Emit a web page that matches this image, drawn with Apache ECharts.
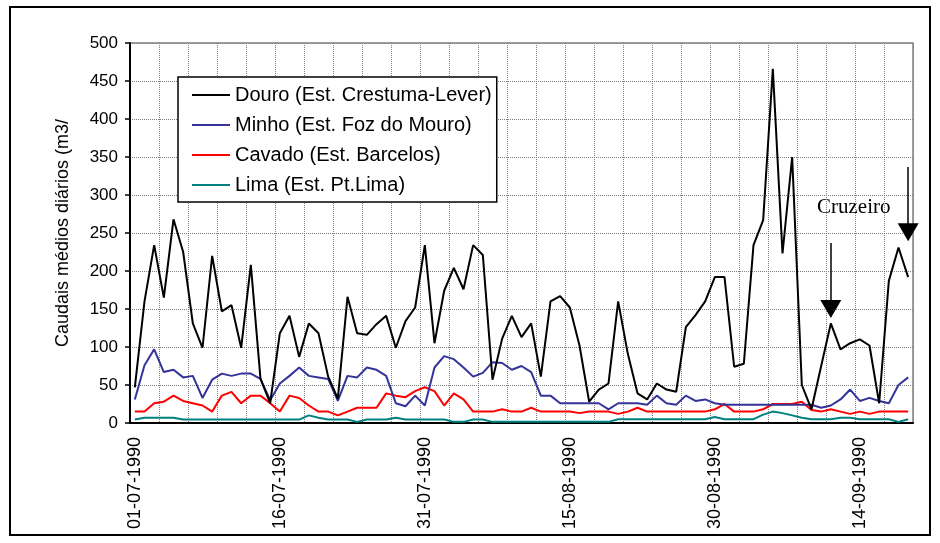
<!DOCTYPE html>
<html>
<head>
<meta charset="utf-8">
<title>Caudais médios diários</title>
<script src="https://cdn.jsdelivr.net/npm/echarts@6.0.0/dist/echarts.min.js"></script>
<style>
  html, body { margin: 0; padding: 0; background: #fff; }
  #chart { width: 940px; height: 543px; }
</style>
</head>
<body>
<div id="chart"></div>
<script>
// dias de 01-07-1990 a 19-09-1990
var days = [];
(function () {
  var d = new Date(1990, 6, 1);
  for (var i = 0; i < 81; i++) {
    var dd = ('0' + d.getDate()).slice(-2);
    var mm = ('0' + (d.getMonth() + 1)).slice(-2);
    days.push(dd + '-' + mm + '-1990');
    d.setDate(d.getDate() + 1);
  }
})();

var seriesNames = [
  'Douro (Est. Crestuma-Lever)',
  'Minho (Est. Foz do Mouro)',
  'Cavado (Est. Barcelos)',
  'Lima (Est. Pt.Lima)'
];

var douro = [47, 160, 234, 165, 268, 225, 131, 99, 220, 147,
  155, 99, 208, 58, 26, 118, 141, 87, 131, 118,
  61, 32, 166, 118, 116, 130, 141, 99, 134, 152,
  234, 105, 174, 204, 176, 234, 221, 57, 111, 141,
  113, 131, 61, 160, 167, 152, 102, 28, 44, 52,
  160, 91, 39, 31, 52, 44, 41, 126, 142, 160,
  192, 192, 74, 78, 234, 267, 466, 223, 350, 50,
  18, 75, 131, 97, 105, 110, 102, 26, 187, 231,
  192];

var minho = [31, 76, 97, 67, 70, 60, 62, 33, 57, 65,
  62, 65, 65, 58, 30, 52, 62, 73, 62, 60,
  58, 29, 62, 60, 73, 70, 62, 26, 22, 36,
  23, 73, 88, 84, 73, 61, 66, 80, 79, 70,
  75, 67, 36, 36, 26, 26, 26, 26, 26, 18,
  26, 26, 26, 24, 36, 26, 24, 36, 29, 31,
  26, 24, 24, 24, 24, 24, 24, 24, 24, 24,
  24, 20, 23, 31, 44, 29, 33, 29, 26, 50,
  60];

var cavado = [15, 15, 26, 28, 36, 29, 26, 23, 15, 36,
  41, 26, 36, 36, 26, 15, 36, 33, 23, 15,
  15, 10, 15, 20, 20, 20, 39, 36, 34, 42,
  47, 42, 23, 39, 31, 15, 15, 15, 18, 15,
  15, 20, 15, 15, 15, 15, 13, 15, 15, 15,
  12, 15, 20, 15, 15, 15, 15, 15, 15, 15,
  18, 25, 15, 15, 15, 18, 25, 25, 25, 28,
  17, 15, 18, 15, 12, 15, 12, 15, 15, 15,
  15];

var lima = [4.5, 7, 7, 7, 7, 4.5, 4.5, 4.5, 4.5, 4.5,
  4.5, 4.5, 4.5, 4.5, 4.5, 4.5, 4.5, 4.5, 10, 7,
  4.5, 4.5, 4.5, 1.5, 4.5, 4.5, 4.5, 7, 4.5, 4.5,
  4.5, 4.5, 4.5, 1.5, 1.5, 4.5, 4.5, 1.5, 1.5, 1.5,
  1.5, 1.5, 1.5, 1.5, 1.5, 1.5, 1.5, 1.5, 1.5, 1.5,
  5, 5, 5, 5, 5, 5, 5, 5, 5, 5,
  8, 5, 5, 5, 5, 11, 15, 13, 10, 7,
  5, 5, 5, 7, 7, 5, 5, 5, 5, 1.5,
  5];

var colors = ['#000000', '#333399', '#ff0000', '#008080'];

// setas "Cruzeiro": [dia, valor inicial, valor final]
var arrows = [
  ['11-09-1990', 237, 150],
  ['19-09-1990', 337, 251]
];

var font = '"Liberation Sans", Arial, sans-serif';

var chart = echarts.init(document.getElementById('chart'));

var option = {
  animation: false,
  color: colors,
  textStyle: { fontFamily: font, color: '#000' },
  grid: {
    left: 130,
    top: 43,
    width: 783,
    height: 380,
    show: true,
    borderColor: '#808080',
    borderWidth: 1.5
  },
  legend: {
    orient: 'vertical',
    left: 178,
    top: 77,
    padding: [8, 5, 7, 14],
    itemGap: 10,
    itemWidth: 38,
    itemHeight: 2,
    icon: 'rect',
    backgroundColor: '#fff',
    borderColor: '#000',
    borderWidth: 1.5,
    borderRadius: 0,
    selectedMode: false,
    textStyle: { fontSize: 20, color: '#000', lineHeight: 20, fontFamily: font },
    data: seriesNames
  },
  xAxis: {
    type: 'category',
    data: days,
    boundaryGap: true,
    axisLine: { lineStyle: { color: '#000', width: 2 } },
    axisTick: { interval: 2, length: 5, lineStyle: { color: '#000', width: 1.5 } },
    axisLabel: { interval: 14, rotate: 90, margin: 14, fontSize: 18, color: '#000', fontFamily: font },
    splitLine: { show: true, interval: 2, lineStyle: { color: '#808080', type: 'dotted', width: 1 } }
  },
  yAxis: {
    type: 'value',
    min: 0,
    max: 500,
    interval: 50,
    name: 'Caudais médios diários (m3/',
    nameLocation: 'middle',
    nameGap: 58,
    nameTextStyle: { fontSize: 18, color: '#000', fontFamily: font },
    axisLine: { show: true, lineStyle: { color: '#000', width: 2 } },
    axisTick: { show: true, length: 5, lineStyle: { color: '#000', width: 1.5 } },
    axisLabel: { margin: 12, fontSize: 17, color: '#000', fontFamily: font },
    splitLine: { lineStyle: { color: '#808080', type: 'dotted', width: 1 } }
  },
  graphic: [
    {
      type: 'rect',
      shape: { x: 10, y: 7, width: 920, height: 528 },
      style: { fill: 'none', stroke: '#000', lineWidth: 2 },
      silent: true
    },
    {
      type: 'text',
      left: 817,
      top: 197,
      style: { text: 'Cruzeiro', font: '21px "Liberation Serif", "Times New Roman", serif', fill: '#000' },
      silent: true
    }
  ],
  series: [
    {
      name: seriesNames[0],
      type: 'line',
      symbol: 'none',
      data: douro,
      z: 5,
      lineStyle: { width: 2, color: colors[0] },
      markLine: {
        silent: true,
        symbol: ['none', 'triangle'],
        symbolSize: [21, 18],
        label: { show: false },
        lineStyle: { color: '#000', width: 1.5, type: 'solid' },
        data: arrows.map(function (a) {
          return [{ coord: [a[0], a[1]] }, { coord: [a[0], a[2]] }];
        })
      }
    },
    { name: seriesNames[1], type: 'line', symbol: 'none', data: minho, z: 4, lineStyle: { width: 2, color: colors[1] } },
    { name: seriesNames[2], type: 'line', symbol: 'none', data: cavado, z: 3, lineStyle: { width: 2, color: colors[2] } },
    { name: seriesNames[3], type: 'line', symbol: 'none', data: lima, z: 2, lineStyle: { width: 2, color: colors[3] } }
  ]
};

chart.setOption(option);
</script>
</body>
</html>
